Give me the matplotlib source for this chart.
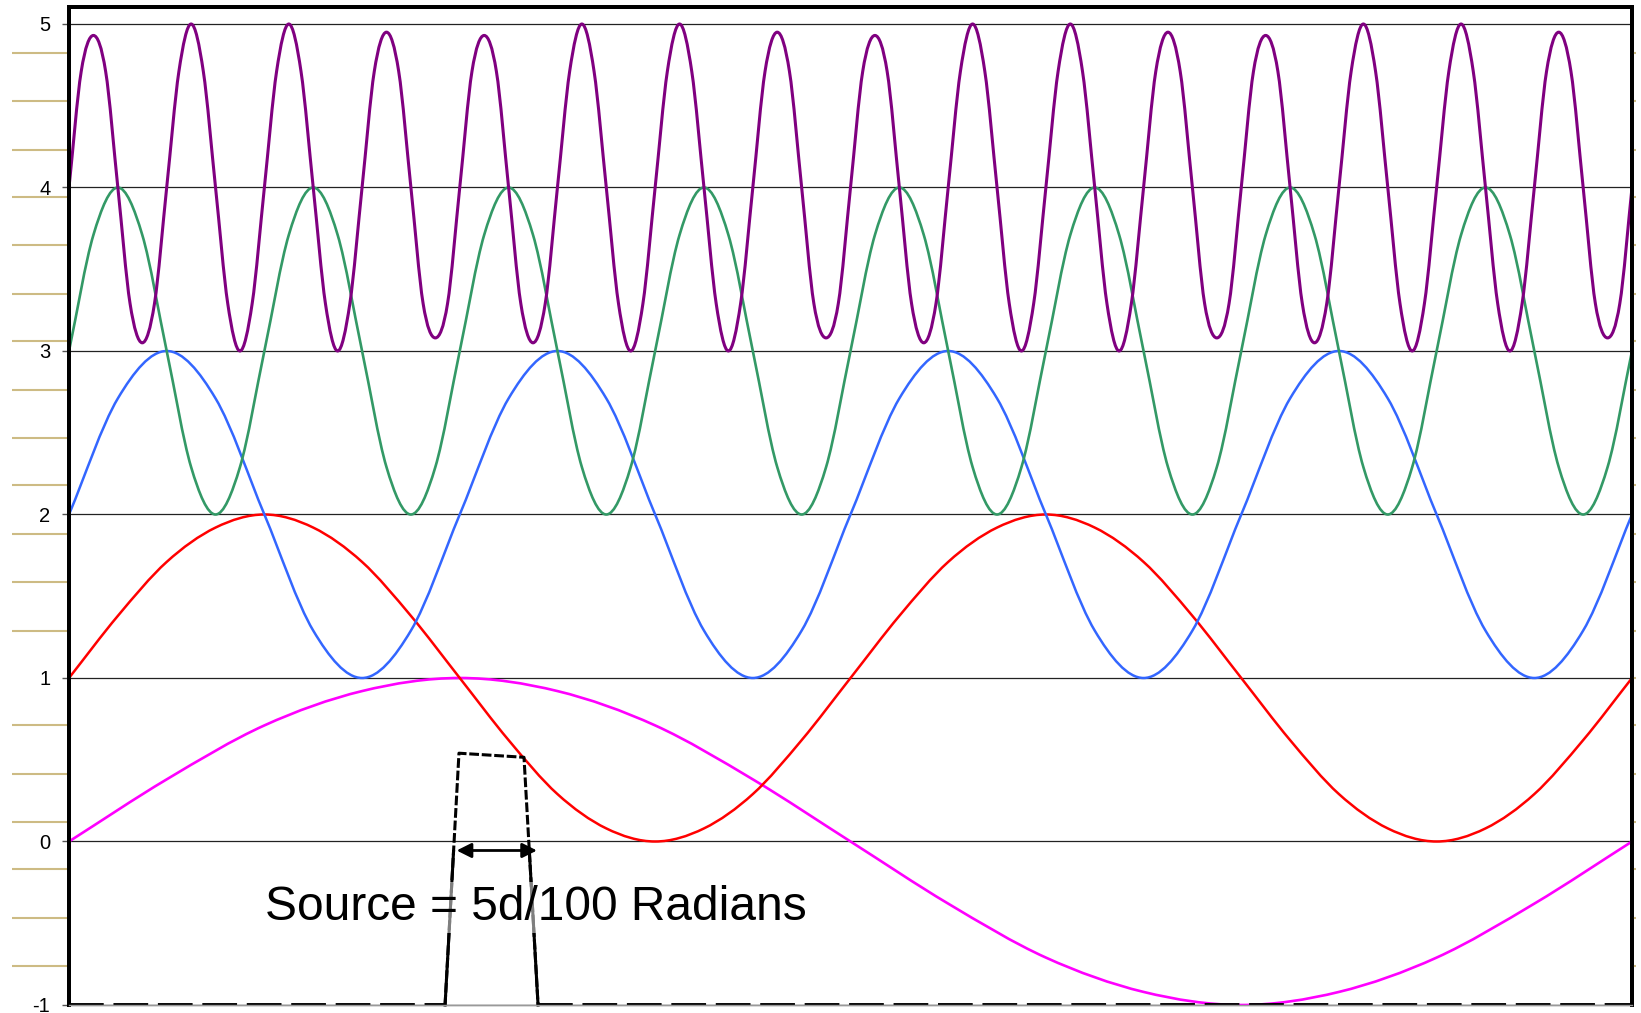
import numpy as np
import matplotlib
matplotlib.use('Agg')
import matplotlib.pyplot as plt
from matplotlib.path import Path
from matplotlib.patches import PathPatch, Rectangle

plt.rcParams['font.family'] = ['Liberation Sans', 'DejaVu Sans']
plt.rcParams['lines.scale_dashes'] = False
plt.rcParams['axes.unicode_minus'] = False

# values at even steps (x runs 0..1 across the plot)
# magenta and red: every sixteenth of a cycle, the others every eighth
magenta_y = [0, 0.38, 0.71, 0.92, 1, 0.92, 0.71, 0.38,
             0, -0.38, -0.71, -0.92, -1, -0.92, -0.71, -0.38,
             0]

red_y = [1, 1.38, 1.71, 1.92, 2, 1.92, 1.71, 1.38,
         1, 0.62, 0.29, 0.08, 0, 0.08, 0.29, 0.62,
         1, 1.38, 1.71, 1.92, 2, 1.92, 1.71, 1.38,
         1, 0.62, 0.29, 0.08, 0, 0.08, 0.29, 0.62,
         1]

blue_y = [2, 2.71, 3, 2.71, 2, 1.29, 1, 1.29,
          2, 2.71, 3, 2.71, 2, 1.29, 1, 1.29,
          2, 2.71, 3, 2.71, 2, 1.29, 1, 1.29,
          2, 2.71, 3, 2.71, 2, 1.29, 1, 1.29,
          2]

green_y = [3, 3.71, 4, 3.71, 3, 2.29, 2, 2.29,
           3, 3.71, 4, 3.71, 3, 2.29, 2, 2.29,
           3, 3.71, 4, 3.71, 3, 2.29, 2, 2.29,
           3, 3.71, 4, 3.71, 3, 2.29, 2, 2.29,
           3, 3.71, 4, 3.71, 3, 2.29, 2, 2.29,
           3, 3.71, 4, 3.71, 3, 2.29, 2, 2.29,
           3, 3.71, 4, 3.71, 3, 2.29, 2, 2.29,
           3, 3.71, 4, 3.71, 3, 2.29, 2, 2.29,
           3]

purple_y = [4, 4.71, 4.93, 4.71, 4, 3.29, 3.05, 3.29,
            4, 4.71, 5.00, 4.71, 4, 3.29, 3.00, 3.29,
            4, 4.71, 5.00, 4.71, 4, 3.29, 3.00, 3.29,
            4, 4.71, 4.95, 4.71, 4, 3.29, 3.08, 3.29,
            4, 4.71, 4.93, 4.71, 4, 3.29, 3.05, 3.29,
            4, 4.71, 5.00, 4.71, 4, 3.29, 3.00, 3.29,
            4, 4.71, 5.00, 4.71, 4, 3.29, 3.00, 3.29,
            4, 4.71, 4.95, 4.71, 4, 3.29, 3.08, 3.29,
            4, 4.71, 4.93, 4.71, 4, 3.29, 3.05, 3.29,
            4, 4.71, 5.00, 4.71, 4, 3.29, 3.00, 3.29,
            4, 4.71, 5.00, 4.71, 4, 3.29, 3.00, 3.29,
            4, 4.71, 4.95, 4.71, 4, 3.29, 3.08, 3.29,
            4, 4.71, 4.93, 4.71, 4, 3.29, 3.05, 3.29,
            4, 4.71, 5.00, 4.71, 4, 3.29, 3.00, 3.29,
            4, 4.71, 5.00, 4.71, 4, 3.29, 3.00, 3.29,
            4, 4.71, 4.95, 4.71, 4, 3.29, 3.08, 3.29,
            4]

# the source pulse (black dashed)
source_x = [0, 0.2406, 0.2495, 0.2911, 0.3001, 1.0]
source_y = [-1, -1, 0.54, 0.515, -1, -1]
arrow_x = [0.248, 0.2994]
arrow_y = -0.055
label = "Source = 5d/100 Radians"

y_ticks = [-1, 0, 1, 2, 3, 4, 5]
tan_ticks = [-0.76, -0.47, -0.17, 0.12, 0.41, 0.71, 1.00, 1.29, 1.59, 1.88,
             2.18, 2.47, 2.76, 3.06, 3.35, 3.65, 3.94, 4.23, 4.53, 4.82]


def smooth_path(y):
    # smoothed line through the samples (like a spreadsheet "smoothed line")
    y = np.asarray(y, float)
    x = np.linspace(0, 1, len(y))
    m = np.gradient(y, x)
    h = np.diff(x)
    verts = [(x[0], y[0])]
    codes = [Path.MOVETO]
    for i in range(len(x) - 1):
        verts += [(x[i] + h[i] / 3, y[i] + m[i] * h[i] / 3),
                  (x[i + 1] - h[i] / 3, y[i + 1] - m[i + 1] * h[i] / 3),
                  (x[i + 1], y[i + 1])]
        codes += [Path.CURVE4] * 3
    return Path(verts, codes)


fig = plt.figure(figsize=(16.41, 10.13), dpi=100)
ax = fig.add_axes([0.04205, 0.0079, 0.95247, 0.9852])
ax.set_xlim(0, 1)
ax.set_ylim(-1, 5.104)

# gridlines and ticks
ax.set_yticks(y_ticks)
ax.set_yticks(tan_ticks, minor=True)
ax.yaxis.grid(True, which='major', color='#222222', lw=0.9)
ax.tick_params(axis='y', which='major', length=5, width=1, color='#555555',
               pad=8.5, labelsize=14.5)
ax.tick_params(axis='y', which='minor', length=41, width=1.5, color='#CDBB84')
ax.set_xticks([])

ax2 = ax.twinx()
ax2.set_ylim(-1, 5.104)
ax2.set_yticks(tan_ticks)
ax2.tick_params(axis='y', length=3, width=1.5, color='#CDBB84', labelright=False)
ax2.set_xticks([])
for a in (ax, ax2):
    for s in ('left', 'top', 'right'):
        a.spines[s].set_linewidth(2.8)
        a.spines[s].set_color('black')
    a.spines['bottom'].set_color('#999999')
    a.spines['bottom'].set_linewidth(1)

series = [(magenta_y, '#FF00FF', 1.9), (red_y, '#FF0000', 1.8),
          (blue_y, '#3366FF', 1.8), (green_y, '#339966', 1.9),
          (purple_y, '#800080', 2.2)]
for i, (vals, col, lw) in enumerate(series):
    ax.add_patch(PathPatch(smooth_path(vals), fill=False, edgecolor=col,
                           lw=lw, zorder=3 + i * 0.1, capstyle='round',
                           joinstyle='round'))

# source pulse: long dashes on the baseline, short dashes on the pulse
ax.plot(source_x[:2], source_y[:2], color='black', lw=2.8, dashes=(25, 7), zorder=4)
ax.plot(source_x[4:], source_y[4:], color='black', lw=2.8, dashes=(25, 7), zorder=4)
ax.plot(source_x[1:5], source_y[1:5], color='black', lw=2.2, dashes=(7, 2), zorder=4)
solid, = ax.plot(source_x[1:5], source_y[1:5], color='black', lw=2.2, zorder=4)
clip = Rectangle((0, -1.1), 1, 1.05, transform=ax.transData)
solid.set_clip_path(clip)

ax.annotate('', xy=(arrow_x[1], arrow_y), xytext=(arrow_x[0], arrow_y),
            arrowprops=dict(arrowstyle='<|-|>', color='black', lw=2,
                            mutation_scale=22, shrinkA=0, shrinkB=0), zorder=5)

ax.text(0.299, -0.405, label, ha='center', va='center', fontsize=34.5, zorder=6,
        bbox=dict(facecolor='white', alpha=0.5, edgecolor='none', pad=2))

fig.savefig('out.png', dpi=100)
